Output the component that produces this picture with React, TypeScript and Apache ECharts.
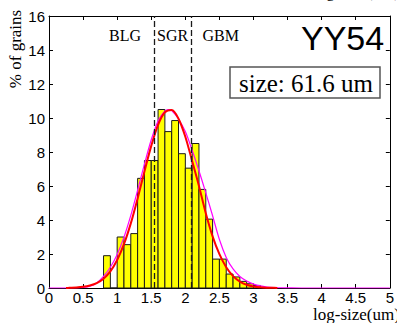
import React, { useEffect, useRef } from "react";
import * as echarts from "echarts";

// histogram bins (left edge, log-size) and % of grains
const binStarts = [0.8, 0.9, 1.0, 1.1, 1.2, 1.3, 1.4, 1.5, 1.6, 1.7, 1.8, 1.9, 2.0, 2.1, 2.2, 2.3, 2.4, 2.5, 2.6, 2.7, 2.8, 2.9, 3.0];
const binPercents = [1.9, 0, 3.0, 2.55, 3.2, 6.45, 7.5, 7.5, 10.5, 9.2, 9.85, 7.9, 7.05, 8.5, 5.8, 4.05, 1.7, 1.7, 0.82, 0.65, 0.39, 0.25, 0.15];
const binWidth = 0.1;

// red fitted curve
const redX = [0.25, 0.3, 0.4, 0.5, 0.6, 0.7, 0.8, 0.9, 1.0, 1.1, 1.2, 1.3, 1.4, 1.5, 1.6, 1.7, 1.8, 1.9, 2.0, 2.1, 2.2, 2.3, 2.4, 2.5, 2.6, 2.7, 2.8, 2.9, 3.0, 3.1, 3.2, 3.3, 3.35];
const redY = [0, 0.01, 0.03, 0.07, 0.15, 0.29, 0.55, 0.98, 1.65, 2.58, 3.8, 5.27, 6.85, 8.36, 9.6, 10.34, 10.47, 9.96, 8.9, 7.47, 6.0, 4.4, 3.04, 1.99, 1.22, 0.7, 0.38, 0.19, 0.09, 0.04, 0.02, 0.01, 0];

// magenta fitted curve
const magX = [0, 0.3, 0.4, 0.5, 0.6, 0.7, 0.8, 0.9, 1.0, 1.1, 1.2, 1.3, 1.4, 1.5, 1.6, 1.7, 1.75, 1.8, 1.9, 2.0, 2.1, 2.2, 2.3, 2.4, 2.5, 2.6, 2.7, 2.8, 2.9, 3.0, 3.1, 3.2, 3.3, 3.4, 3.5, 3.7, 4.0, 5.0];
const magY = [0, 0, 0.01, 0.03, 0.1, 0.3, 0.68, 1.22, 1.97, 2.99, 4.27, 5.75, 7.29, 8.72, 9.82, 10.42, 10.5, 10.44, 9.94, 9.2, 8.1, 6.9, 5.6, 4.25, 2.85, 1.8, 1.12, 0.68, 0.41, 0.23, 0.12, 0.06, 0.03, 0.015, 0.01, 0, 0, 0];

// regime boundaries
const boundaries = [1.555, 2.085];
const regimeLabels = ["BLG", "SGR", "GBM"];
const sampleName = "YY54";
const sizeLabel = "size: 61.6 um";

const xTicks = ["0", "0.5", "1", "1.5", "2", "2.5", "3", "3.5", "4", "4.5", "5"];
const yTicks = ["0", "2", "4", "6", "8", "10", "12", "14", "16"];

const SERIF = '"Liberation Serif", "Times New Roman", serif';
const SANS = '"Liberation Sans", Arial, sans-serif';

export default function App() {
  const ref = useRef<HTMLDivElement>(null);
  useEffect(() => {
    if (!ref.current) return;
    const chart = echarts.init(ref.current, null, { renderer: "svg" });
    const barData = binStarts.map((s, i) => [s, s + binWidth, binPercents[i]]);
    const axisCommon = {
      type: "value" as const,
      axisLine: { show: true, onZero: false, lineStyle: { color: "#000", width: 1 } },
      axisTick: { show: true, inside: true, length: 4, lineStyle: { color: "#000" } },
      splitLine: { show: false },
    };
    chart.setOption({
      animation: false,
      grid: { left: 49, width: 346, top: 16, height: 272, containLabel: false },
      xAxis: [
        {
          ...axisCommon,
          min: 0, max: 5, interval: 0.5, position: "bottom",
          axisLabel: { show: true, color: "#000", fontFamily: SANS, fontSize: 15, lineHeight: 13, margin: 3, formatter: (v: number) => xTicks[Math.round(v * 2)] },
        },
        {
          ...axisCommon,
          min: 0, max: 5, interval: 0.5, position: "top",
          axisLabel: { show: false },
        },
      ],
      yAxis: [
        {
          ...axisCommon,
          min: 0, max: 16, interval: 2, position: "left",
          axisLabel: { show: true, color: "#000", fontFamily: SANS, fontSize: 15, margin: 4, formatter: (v: number) => yTicks[Math.round(v / 2)] },
        },
        {
          ...axisCommon,
          min: 0, max: 16, interval: 2, position: "right",
          axisLabel: { show: false },
        },
      ],
      series: [
        {
          type: "line",
          data: [],
          z: 1,
          markLine: {
            silent: true,
            symbol: "none",
            label: { show: false },
            lineStyle: { color: "#1a1a1a", width: 1.3, type: [6, 3] },
            data: boundaries.map((b) => ({ xAxis: b })),
          },
        },
        {
          type: "custom",
          z: 2,
          data: barData,
          encode: { x: [0, 1], y: 2 },
          renderItem: (params: any, api: any) => {
            const p0 = api.coord([api.value(0), api.value(2)]);
            const p1 = api.coord([api.value(1), 0]);
            return {
              type: "rect",
              shape: { x: p0[0], y: p0[1], width: p1[0] - p0[0], height: p1[1] - p0[1] },
              style: { fill: "#ffff00", stroke: "#1a1a1a", lineWidth: 1 },
            };
          },
        },
        {
          type: "line",
          z: 3,
          data: magX.map((x, i) => [x, magY[i]]),
          showSymbol: false,
          smooth: 0.3,
          lineStyle: { color: "#ff00ff", width: 1.2 },
        },
        {
          type: "line",
          z: 4,
          data: redX.map((x, i) => [x, redY[i]]),
          showSymbol: false,
          smooth: 0.3,
          lineStyle: { color: "#ff0000", width: 2 },
        },
      ],
      graphic: [
        { type: "text", x: 109, y: 35, style: { text: regimeLabels[0], font: `16px ${SERIF}`, fill: "#000", verticalAlign: "middle" } },
        { type: "text", x: 157, y: 35, style: { text: regimeLabels[1], font: `16px ${SERIF}`, fill: "#000", verticalAlign: "middle" } },
        { type: "text", x: 202.5, y: 35, style: { text: regimeLabels[2], font: `16px ${SERIF}`, fill: "#000", verticalAlign: "middle" } },
        { type: "text", x: 301, y: 38, style: { text: sampleName, font: `34px ${SANS}`, fill: "#000", verticalAlign: "middle" } },
        { type: "rect", shape: { x: 230, y: 67, width: 150, height: 31 }, style: { fill: "#fff", stroke: "#555", lineWidth: 1.5 }, z: 10 },
        { type: "text", x: 306, y: 83, z: 11, style: { text: sizeLabel, font: `25px ${SERIF}`, fill: "#000", align: "center", verticalAlign: "middle" } },
        { type: "text", x: 15, y: 49, rotation: Math.PI / 2, style: { text: "% of grains", font: `17px ${SERIF}`, fill: "#000", align: "center", verticalAlign: "middle" } },
        { type: "text", x: 313, y: 314, style: { text: "log-size(um)", font: `17px ${SERIF}`, lineHeight: 14, fill: "#000", verticalAlign: "middle" } },
        { type: "text", x: 313, y: -9, style: { text: "log-size(um)", font: `17px ${SERIF}`, lineHeight: 14, fill: "#000", verticalAlign: "middle" } },
      ],
    });
    return () => chart.dispose();
  }, []);
  return <div ref={ref} style={{ width: 397, height: 323, position: "absolute", left: 0, top: 0 }} />;
}
